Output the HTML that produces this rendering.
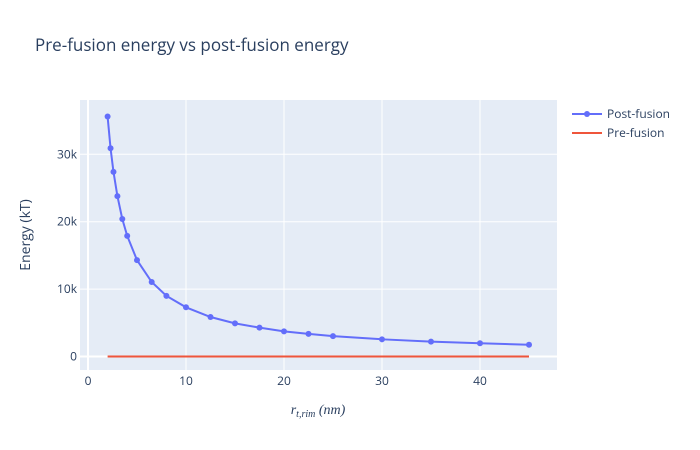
<!DOCTYPE html>
<html><head><meta charset="utf-8"><style>
body{margin:0;background:#fff}
svg{display:block;font-family:"Open Sans","Liberation Sans",sans-serif}
</style></head><body>
<svg id="chart" width="700" height="450" xmlns="http://www.w3.org/2000/svg">
<rect width="700" height="450" fill="#fff"/>
<text x="35" y="51" font-size="17" fill="#2a3f5f">Pre-fusion energy vs post-fusion energy</text>
<rect x="80" y="100" width="477" height="270" fill="#e5ecf6"/>
<g id="grid"></g>
<g id="marks"></g>
<g id="ticks" font-size="12" fill="#2a3f5f"></g>
<text transform="translate(30,235) rotate(-90)" text-anchor="middle" font-size="14" fill="#2a3f5f">Energy (kT)</text>
<text x="318" y="414" text-anchor="middle" font-family="Liberation Serif,serif" font-style="italic" font-size="14" fill="#2a3f5f">r<tspan font-size="10" dy="3">t,rim</tspan><tspan dy="-3"> (nm)</tspan></text>
<g>
<g>
<line x1="572" y1="114" x2="602" y2="114" stroke="#636efa" stroke-width="2"/>
<circle cx="587" cy="114" r="3" fill="#636efa"/>
<text x="607" y="118" font-size="12" fill="#2a3f5f">Post-fusion</text></g>
<g>
<line x1="572" y1="133" x2="602" y2="133" stroke="#ef553b" stroke-width="2"/>
<text x="607" y="137" font-size="12" fill="#2a3f5f">Pre-fusion</text></g>
</g>
</svg>
<script>
const xValues=[2,2.3,2.6,3,3.5,4,5,6.5,8,10,12.5,15,17.5,20,22.5,25,30,35,40,45];
const postFusion=[35600,30900,27400,23800,20400,17900,14300,11050,9000,7300,5860,4920,4280,3730,3350,3030,2550,2200,1960,1750];
const preFusion=[0,0,0,0,0,0,0,0,0,0,0,0,0,0,0,0,0,0,0,0];
const xTicks=[0,10,20,30,40];
const yTicks=[0,10000,20000,30000];
const yTickLabels=["0","10k","20k","30k"];
const NS="http://www.w3.org/2000/svg";
const X=v=>88+v*9.8;
const Y=v=>356.5-v*0.00674;
function mk(p,tag,attrs){const e=document.createElementNS(NS,tag);for(const k in attrs)e.setAttribute(k,attrs[k]);p.appendChild(e);return e;}
const grid=document.getElementById('grid'),marks=document.getElementById('marks'),ticks=document.getElementById('ticks');
xTicks.forEach(t=>{
 const l=mk(grid,'line',{x1:X(t),x2:X(t),y1:100,y2:370,stroke:'#fff','stroke-width':t===0?2:1});
 
 
 const tx=mk(ticks,'text',{x:X(t),y:385,'text-anchor':'middle'});tx.textContent=t;
 
 
});
yTicks.forEach((t,i)=>{
 const l=mk(grid,'line',{x1:80,x2:557,y1:Y(t),y2:Y(t),stroke:'#fff','stroke-width':t===0?2:1});
 
 
 const tx=mk(ticks,'text',{x:77,y:Y(t)+4,'text-anchor':'end'});tx.textContent=yTickLabels[i];
 
 
});
const pre=mk(marks,'polyline',{points:xValues.map((x,i)=>X(x)+','+Y(preFusion[i])).join(' '),fill:'none',stroke:'#ef553b','stroke-width':2});


const post=mk(marks,'polyline',{points:xValues.map((x,i)=>X(x)+','+Y(postFusion[i])).join(' '),fill:'none',stroke:'#636efa','stroke-width':2});


xValues.forEach((x,i)=>{
 const c=mk(marks,'circle',{cx:X(x),cy:Y(postFusion[i]),r:3,fill:'#636efa'});
 
 
});
</script>
</body></html>
